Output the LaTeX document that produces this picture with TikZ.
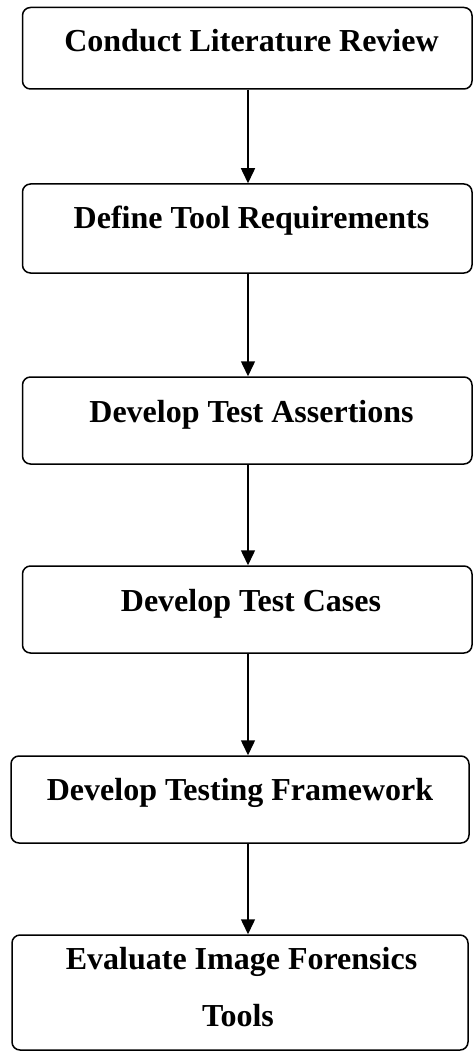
\documentclass[tikz,border=0pt]{standalone}
\usepackage{fontspec}
\setmainfont{Liberation Serif}
\usetikzlibrary{arrows.meta}
\begin{document}
\begin{tikzpicture}[x=1pt,y=-1pt,
  box/.style={draw,line width=1.5pt,rounded corners=8pt,inner sep=0pt},
  lbl/.style={font=\fontsize{32}{37}\selectfont\bfseries,anchor=base,inner sep=0pt},
  conn/.style={line width=1.5pt,-{Triangle[width=14pt,length=15pt]}}]
\useasboundingbox (0,0) rectangle (473,1051);
\coordinate (ax) at (248,0);
\node[box,minimum width=449.5pt,minimum height=81.5pt] (b1) at (247.25,48.25) {};
\node[box,minimum width=449.5pt,minimum height=89pt] (b2) at (247.25,228.5) {};
\node[box,minimum width=449.5pt,minimum height=87pt] (b3) at (247.25,420.5) {};
\node[box,minimum width=449.5pt,minimum height=87pt] (b4) at (247.25,609.5) {};
\node[box,minimum width=458pt,minimum height=87pt] (b5) at (240,799.5) {};
\node[box,minimum width=456pt,minimum height=115pt] (b6) at (240,992.5) {};
\node[lbl] (t1) at (251.5,52) {Conduct Literature Review};
\node[lbl] (t2) at (251.5,228) {Define Tool Requirements};
\node[lbl] (t3) at (251.5,422) {Develop Test Assertions};
\node[lbl] (t4) at (251,611) {Develop Test Cases};
\node[lbl] (t5) at (240,800) {Develop Testing Framework};
\node[lbl] (t6a) at (241.5,969) {Evaluate Image Forensics};
\node[lbl] (t6b) at (238,1026) {Tools};
\draw[conn] (b1.south -| ax) -- (b2.north -| ax);
\draw[conn] (b2.south -| ax) -- (b3.north -| ax);
\draw[conn] (b3.south -| ax) -- (b4.north -| ax);
\draw[conn] (b4.south -| ax) -- (b5.north -| ax);
\draw[conn] (b5.south -| ax) -- (b6.north -| ax);
\end{tikzpicture}
\end{document}
